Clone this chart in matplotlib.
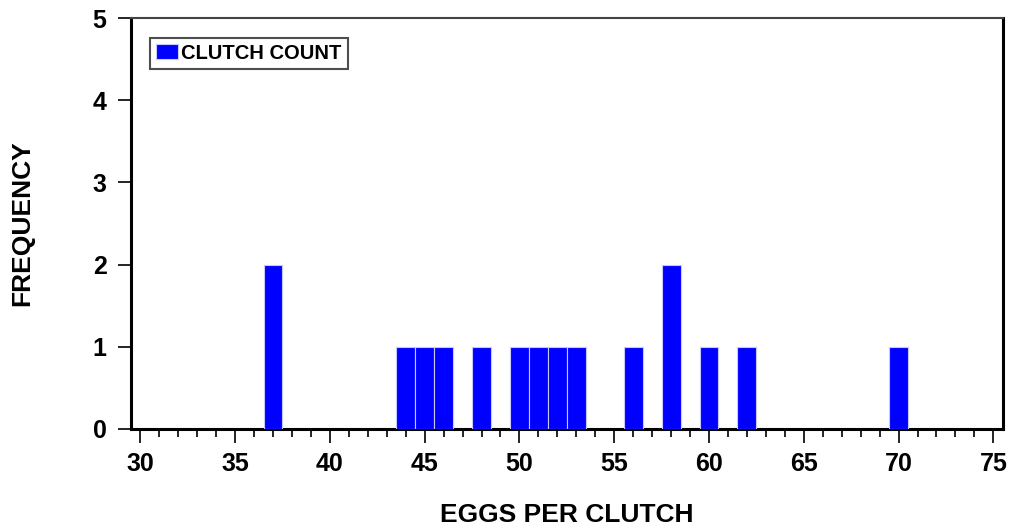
import matplotlib.pyplot as plt
from matplotlib.ticker import MultipleLocator

plt.rcParams['font.family'] = ['Liberation Sans', 'DejaVu Sans']
plt.rcParams['font.weight'] = 'bold'

# Eggs per clutch and how many clutches had that count
eggs = [37, 44, 45, 46, 48, 50, 51, 52, 53, 56, 58, 60, 62, 70]
counts = [2, 1, 1, 1, 1, 1, 1, 1, 1, 1, 2, 1, 1, 1]

fig = plt.figure(figsize=(10.14, 5.32), dpi=100)
ax = fig.add_axes([0.129, 0.194, 0.860, 0.772])

ax.bar(eggs, counts, width=1.0, color='#0000ff', edgecolor='#c8c8ff',
       linewidth=0.8, label='CLUTCH COUNT', zorder=3)

ax.set_xlim(29.5, 75.5)
ax.set_ylim(0, 5)
ax.xaxis.set_major_locator(MultipleLocator(5))
ax.xaxis.set_minor_locator(MultipleLocator(1))
ax.yaxis.set_major_locator(MultipleLocator(1))

ax.tick_params(axis='x', which='major', direction='out', length=10, width=1.2,
               labelsize=18, pad=7)
ax.tick_params(axis='x', which='minor', direction='out', length=5.5, width=1.2)
ax.tick_params(axis='y', which='major', direction='out', length=9.5, width=1.2,
               labelsize=18, pad=8)
for lab in ax.get_xticklabels() + ax.get_yticklabels():
    lab.set_fontweight('bold')

for side in ['left', 'bottom', 'right']:
    ax.spines[side].set_linewidth(2.2)
ax.spines['top'].set_linewidth(1.5)
ax.spines['top'].set_color('#444444')

ax.set_xlabel('EGGS PER CLUTCH', fontsize=19, fontweight='bold', labelpad=19)
ax.set_ylabel('FREQUENCY', fontsize=19, fontweight='bold', labelpad=42)

leg = ax.legend(loc='upper left', bbox_to_anchor=(0.022, 0.952), fontsize=14.5,
                frameon=True, fancybox=False, handlelength=1.1, handleheight=0.75,
                handletextpad=0.15, borderpad=0.3, borderaxespad=0)
leg.get_frame().set_edgecolor('#222222')
leg.get_frame().set_linewidth(1.5)
for t in leg.get_texts():
    t.set_fontweight('bold')

plt.savefig('out.png', dpi=100)
